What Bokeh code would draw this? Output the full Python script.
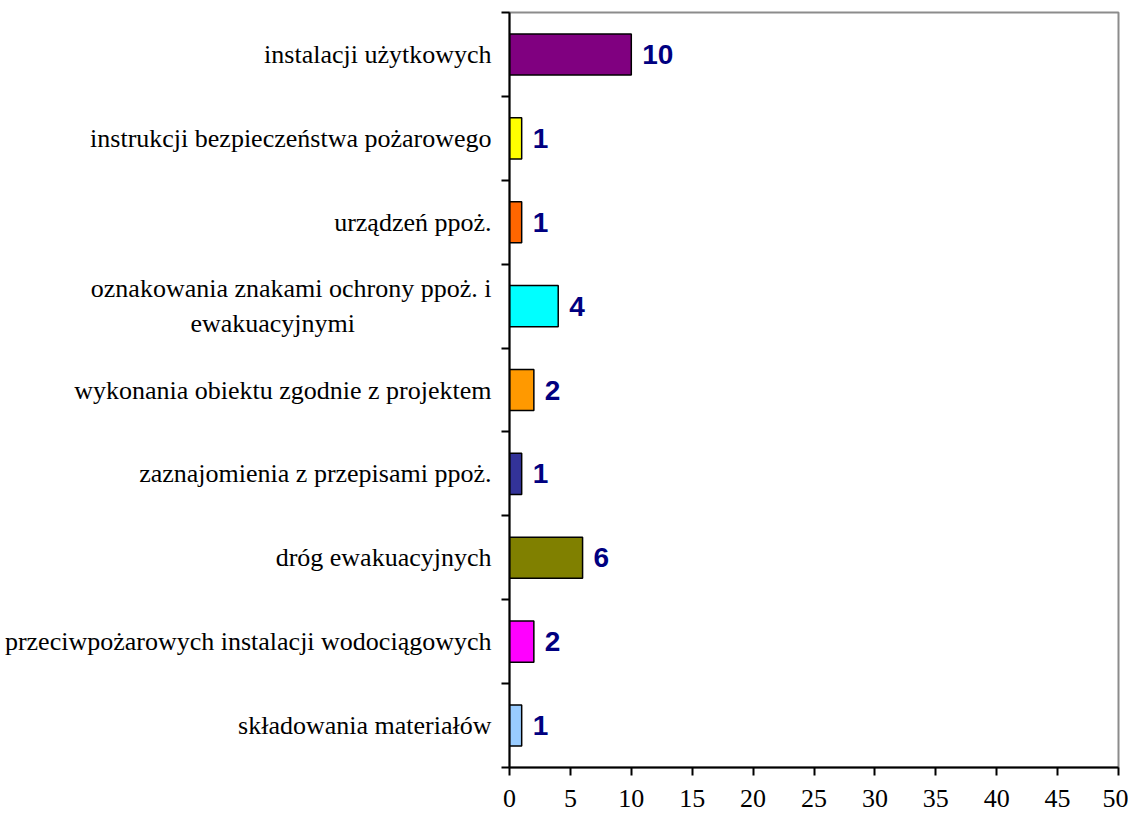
from bokeh.plotting import figure
from bokeh.models import Range1d, LinearAxis, FixedTicker, ColumnDataSource
from bokeh.embed import file_html
from bokeh.resources import INLINE
from bokeh.core.properties import value

NB = "\u00a0"
categories = [
    "składowania materiałów",
    "przeciwpożarowych instalacji wodociągowych",
    "dróg ewakuacyjnych",
    "zaznajomienia z przepisami ppoż.",
    "wykonania obiektu zgodnie z projektem",
    "oznakowania znakami ochrony ppoż. i\newakuacyjnymi" + NB * 21,
    "urządzeń ppoż.",
    "instrukcji bezpieczeństwa pożarowego",
    "instalacji użytkowych",
]
values = [1, 2, 6, 1, 2, 4, 1, 1, 10]
colors = ["#99CCFF", "#FF00FF", "#808000", "#333399", "#FF9900",
          "#00FFFF", "#FF6600", "#FFFF00", "#800080"]
x_ticks = [0, 5, 10, 15, 20, 25, 30, 35, 40, 45, 50]

n = len(categories)
ypos = [i + 0.5 for i in range(n)]
src = ColumnDataSource(dict(y=ypos, v=values, c=colors,
                            t=[str(v) for v in values]))

p = figure(width=1128, height=813, output_backend="svg", toolbar_location=None,
           x_range=Range1d(0, 50), y_range=Range1d(0, n),
           min_border_left=509, min_border_top=12, min_border_right=10,
           min_border_bottom=46, y_axis_location=None)
p.xgrid.visible = False
p.ygrid.visible = False
p.outline_line_color = "#8c8c8c"
p.outline_line_width = 2
p.background_fill_color = "white"
p.border_fill_color = "white"

p.hbar(y="y", left=0, right="v", height=0.49, fill_color="c",
       line_color="black", line_width=1.5, source=src)
p.text(x="v", y="y", text="t", source=src, x_offset=11,
       text_font=value("Liberation Sans"), text_font_style="bold",
       text_font_size="28px", text_color="#000080",
       text_baseline="middle", text_align="left")

# x axis
xa = p.xaxis[0]
xa.ticker = FixedTicker(ticks=x_ticks)
xa.axis_line_color = "black"
xa.axis_line_width = 2
xa.major_tick_line_color = "black"
xa.major_tick_line_width = 2
xa.major_tick_in = 0
xa.major_tick_out = 8
xa.minor_tick_line_color = None
xa.major_label_standoff = 14
xa.major_label_text_font = "Liberation Serif"
xa.major_label_text_font_size = "26px"
xa.major_label_text_color = "black"

# y axis: boundary ticks (inner)
ya = LinearAxis(ticker=FixedTicker(ticks=list(range(n + 1))))
ya.axis_line_color = "black"
ya.axis_line_width = 2
ya.major_tick_line_color = "black"
ya.major_tick_line_width = 2
ya.major_tick_in = 0
ya.major_tick_out = 8
ya.minor_tick_line_color = None
ya.major_label_text_font_size = "0px"
ya.major_label_standoff = 0
ya.major_label_overrides = {i: "" for i in range(n + 1)}

# y axis: category labels (outer)
yl = LinearAxis(ticker=FixedTicker(ticks=ypos))
yl.axis_line_color = None
yl.major_tick_line_color = None
yl.minor_tick_line_color = None
yl.major_label_overrides = {y: c for y, c in zip(ypos, categories)}
yl.major_label_text_font = "Liberation Serif"
yl.major_label_text_font_size = "26px"
yl.major_label_text_color = "black"
yl.major_label_standoff = 4

p.add_layout(ya, "left")
p.add_layout(yl, "left")

open("out.html", "w").write(file_html(p, INLINE))
